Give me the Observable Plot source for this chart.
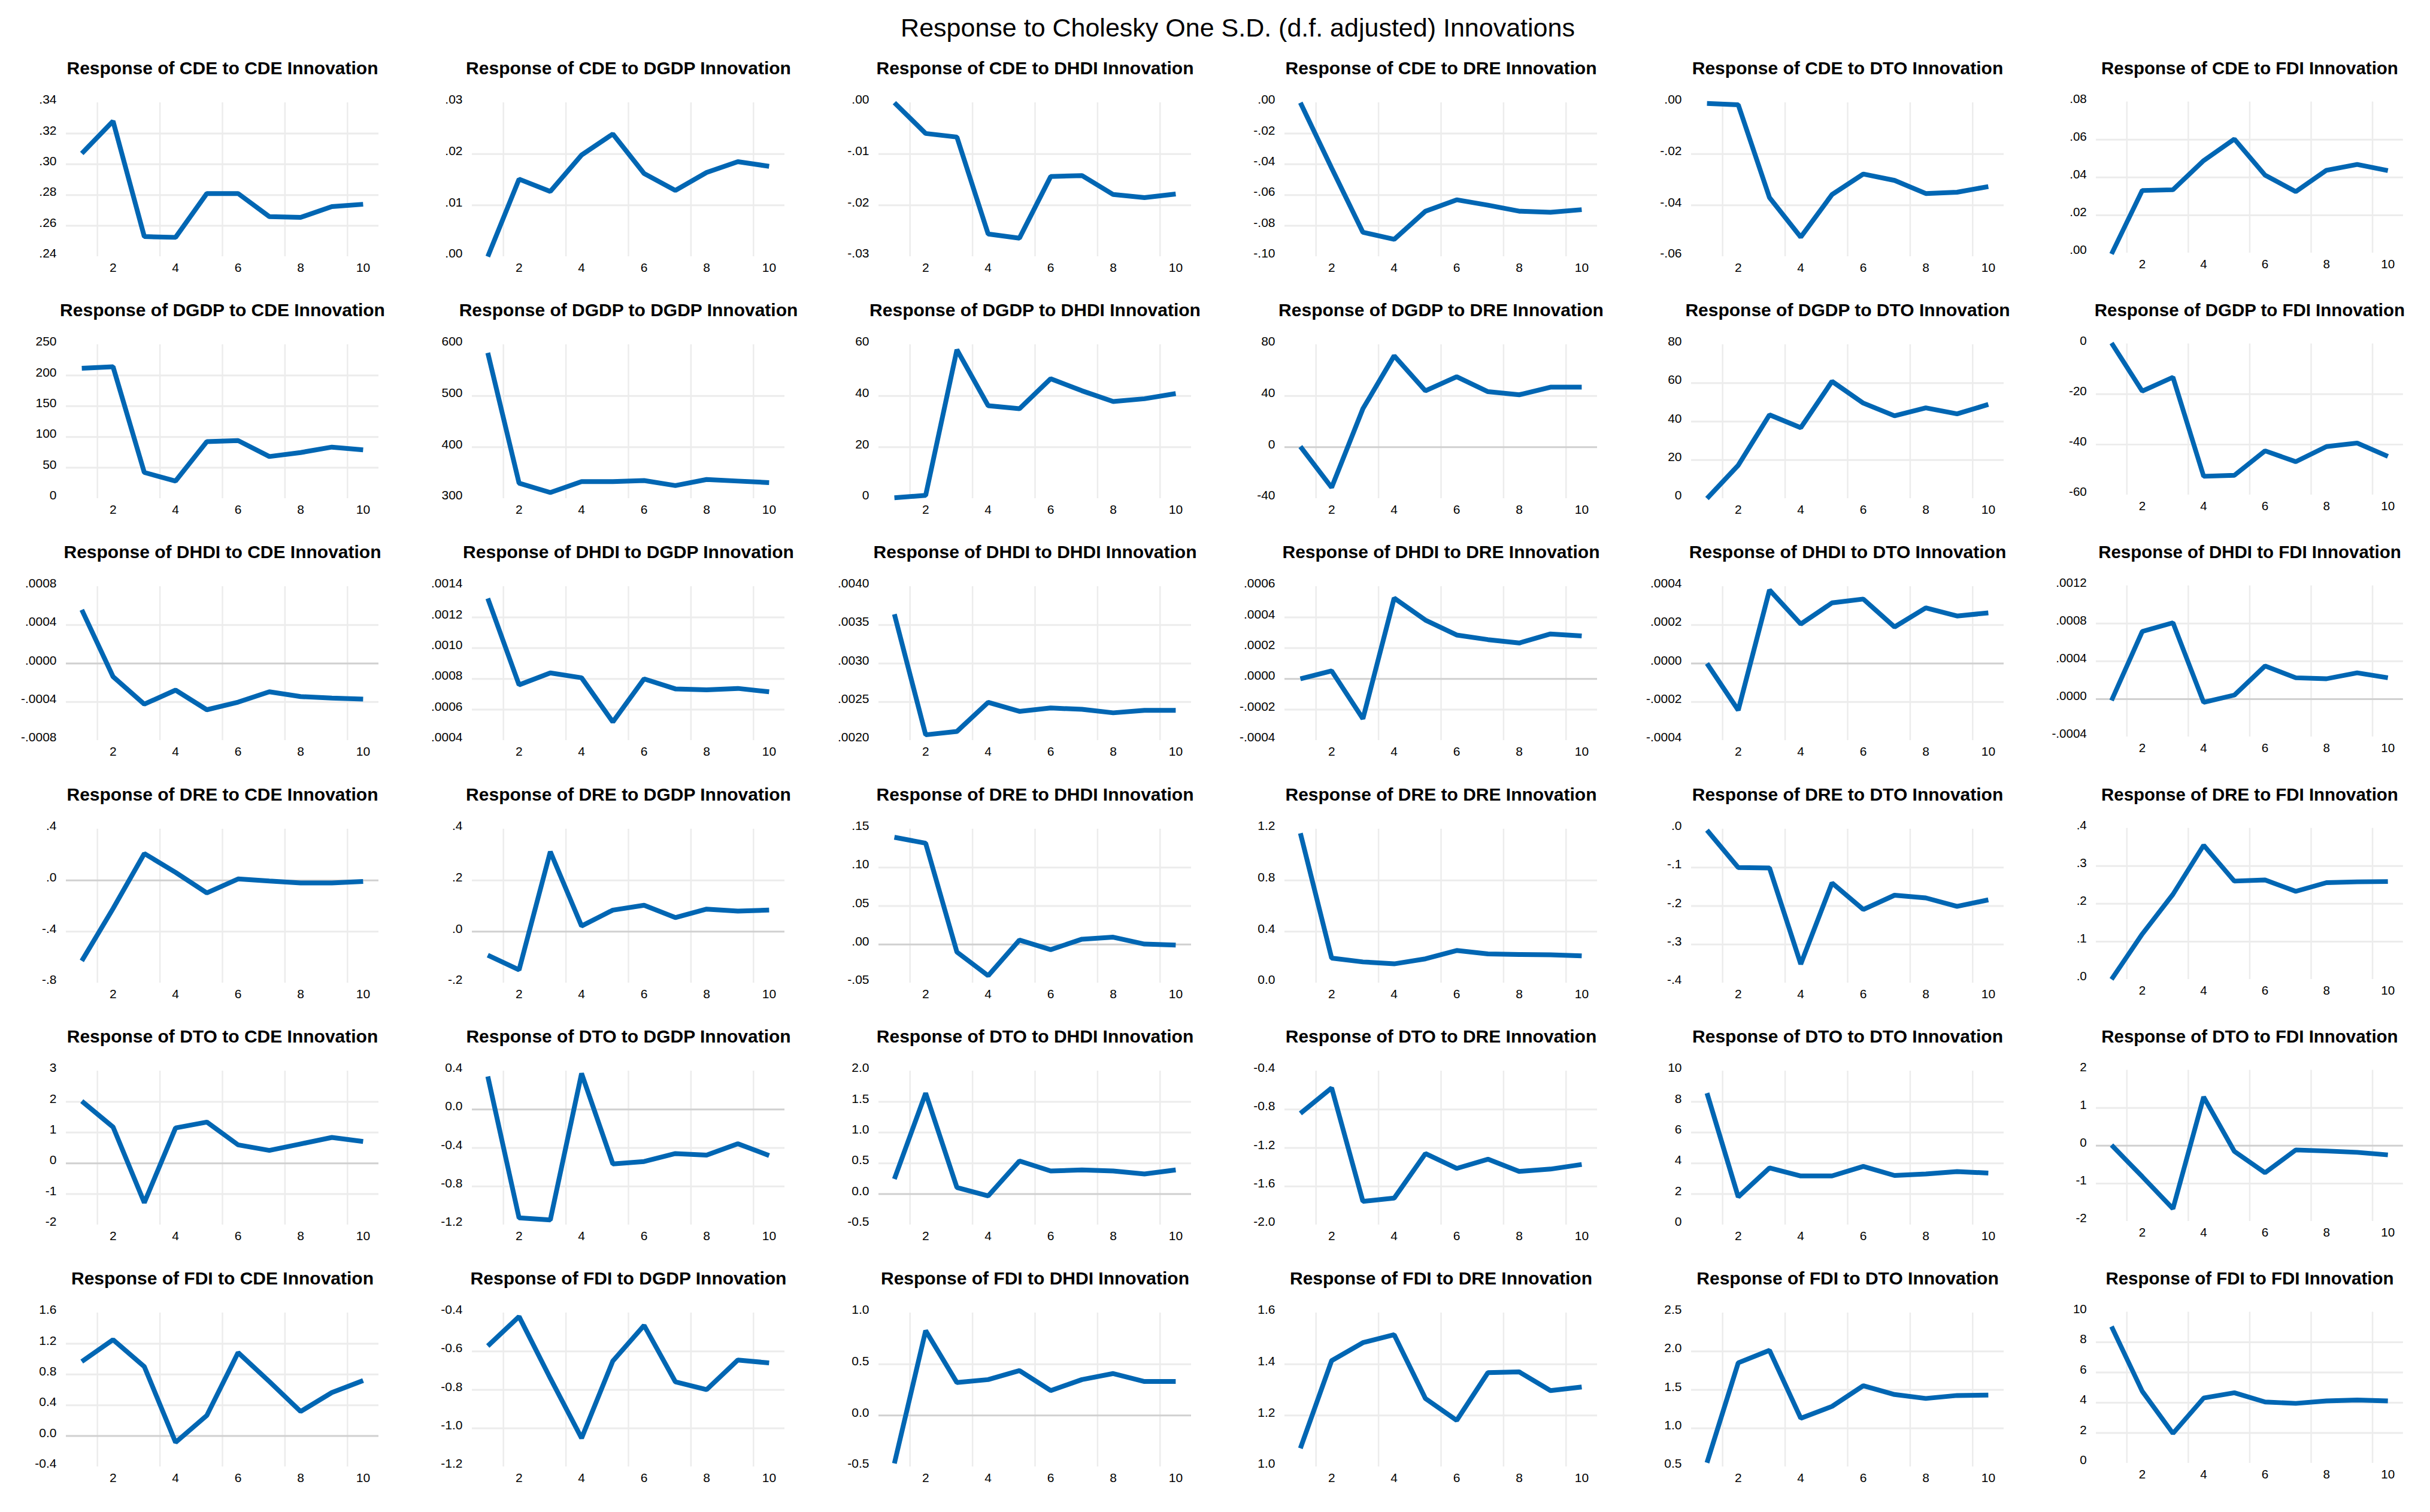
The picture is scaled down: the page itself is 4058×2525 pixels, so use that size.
<!DOCTYPE html>
<html><head><meta charset="utf-8">
<script src="https://cdn.jsdelivr.net/npm/d3@7"></script>
<script src="https://cdn.jsdelivr.net/npm/@observablehq/plot@0.6"></script>
<style>
html,body{margin:0;padding:0;background:#fff;}
#root{position:relative;width:4058px;height:2525px;font-family:"Liberation Sans",Arial,sans-serif;overflow:hidden;}
#title{position:absolute;top:25px;left:2067px;transform:translateX(-50%);font-size:43px;line-height:43px;white-space:nowrap;color:#000;}
.cell{position:absolute;}
</style>
</head><body>
<div id="root"><div id="title">Response to Cholesky One S.D. (d.f. adjusted) Innovations</div></div>
<script>
const variables = ["CDE","DGDP","DHDI","DRE","DTO","FDI"];
const horizon = [1,2,3,4,5,6,7,8,9,10];
const xTickLabels = [2,4,6,8,10];
const xGrid = [1.5,3.5,5.5,7.5,9.5];

// responses, one array per responding variable; inner order = shock (CDE, DGDP, DHDI, DRE, DTO, FDI)
const respCDE = [
  [0.307,0.328,0.253,0.2525,0.281,0.281,0.266,0.2655,0.2725,0.274],
  [0.0,0.0151,0.0127,0.0198,0.0239,0.0162,0.0129,0.0164,0.0185,0.0176],
  [0.0,-0.0060,-0.0067,-0.0256,-0.0264,-0.0144,-0.0142,-0.0179,-0.0185,-0.0178],
  [0.0,-0.0425,-0.0842,-0.0888,-0.0705,-0.0631,-0.0666,-0.0705,-0.0712,-0.0695],
  [-0.0003,-0.0008,-0.0370,-0.0524,-0.0358,-0.0278,-0.0303,-0.0354,-0.0349,-0.0327],
  [-0.0005,0.0331,0.0335,0.0489,0.0603,0.0412,0.0325,0.0438,0.0469,0.0436]
];
const respDGDP = [
  [211.5,214,42.3,28.4,92.5,94.1,68.2,74.7,83.5,79.0],
  [584,330,311.7,333,333,335,325.3,337,334,331],
  [0.3,1.2,58.0,36.2,35.0,46.7,42.0,37.8,38.9,40.9],
  [0.5,-31.4,30,71.3,44,55,43.3,40.9,46.8,46.8],
  [0,17.3,43.5,36.8,60.9,49.6,43.0,47.1,44.0,48.9],
  [0.3,-18.8,-13.3,-52.6,-52.2,-42.5,-46.8,-40.8,-39.4,-44.7]
];
const respDHDI = [
  [0.000558,-0.000137,-0.000423,-0.000277,-0.000481,-0.000402,-0.000294,-0.000344,-0.000360,-0.000371],
  [0.001323,0.000761,0.000839,0.000807,0.000520,0.000800,0.000735,0.000729,0.000738,0.000716],
  [0.003641,0.002073,0.002117,0.002495,0.002378,0.002422,0.002404,0.002359,0.002391,0.002391],
  [0.0,0.000052,-0.000259,0.000525,0.000382,0.000285,0.000255,0.000233,0.000292,0.000279],
  [0.0,-0.000243,0.000382,0.000205,0.000315,0.000335,0.000190,0.000289,0.000247,0.000263],
  [-0.000015,0.000715,0.000808,-0.000035,0.000042,0.000350,0.000225,0.000215,0.000277,0.000225]
];
const respDRE = [
  [-0.628,-0.22,0.209,0.062,-0.098,0.011,-0.005,-0.020,-0.020,-0.008],
  [-0.092,-0.149,0.312,0.022,0.084,0.103,0.055,0.088,0.080,0.084],
  [0.1393,0.1316,-0.0098,-0.0406,0.0057,-0.0067,0.0069,0.0095,0.0005,-0.0008],
  [1.167,0.194,0.164,0.149,0.188,0.253,0.226,0.222,0.219,0.211],
  [-0.003,-0.100,-0.101,-0.351,-0.140,-0.209,-0.172,-0.179,-0.201,-0.184],
  [0.0,0.12,0.225,0.355,0.260,0.263,0.233,0.256,0.258,0.259]
];
const respDTO = [
  [2.02,1.18,-1.28,1.15,1.34,0.60,0.42,0.63,0.84,0.71],
  [0.343,-1.127,-1.148,0.374,-0.566,-0.541,-0.459,-0.475,-0.357,-0.479],
  [0.246,1.64,0.107,-0.029,0.538,0.376,0.392,0.376,0.327,0.392],
  [-0.841,-0.576,-1.756,-1.722,-1.259,-1.413,-1.317,-1.444,-1.420,-1.372],
  [8.56,1.82,3.70,3.18,3.18,3.80,3.21,3.31,3.46,3.37],
  [0.015,-0.817,-1.666,1.29,-0.149,-0.715,-0.113,-0.139,-0.175,-0.242]
];
const respFDI = [
  [0.967,1.252,0.902,-0.083,0.267,1.084,0.708,0.319,0.565,0.721],
  [-0.572,-0.419,-0.74,-1.051,-0.650,-0.465,-0.758,-0.799,-0.645,-0.660],
  [-0.467,0.827,0.321,0.350,0.438,0.243,0.350,0.409,0.331,0.331],
  [1.072,1.414,1.484,1.515,1.266,1.181,1.367,1.370,1.297,1.311],
  [0.553,1.851,2.013,1.131,1.285,1.554,1.439,1.388,1.427,1.432],
  [9.04,4.76,1.97,4.31,4.66,4.05,3.96,4.12,4.18,4.12]
];

// y tick labels per panel
const ticksCDE = [
  [".24",".26",".28",".30",".32",".34"],
  [".00",".01",".02",".03"],
  ["-.03","-.02","-.01",".00"],
  ["-.10","-.08","-.06","-.04","-.02",".00"],
  ["-.06","-.04","-.02",".00"],
  [".00",".02",".04",".06",".08"]
];
const ticksDGDP = [
  ["0","50","100","150","200","250"],
  ["300","400","500","600"],
  ["0","20","40","60"],
  ["-40","0","40","80"],
  ["0","20","40","60","80"],
  ["-60","-40","-20","0"]
];
const ticksDHDI = [
  ["-.0008","-.0004",".0000",".0004",".0008"],
  [".0004",".0006",".0008",".0010",".0012",".0014"],
  [".0020",".0025",".0030",".0035",".0040"],
  ["-.0004","-.0002",".0000",".0002",".0004",".0006"],
  ["-.0004","-.0002",".0000",".0002",".0004"],
  ["-.0004",".0000",".0004",".0008",".0012"]
];
const ticksDRE = [
  ["-.8","-.4",".0",".4"],
  ["-.2",".0",".2",".4"],
  ["-.05",".00",".05",".10",".15"],
  ["0.0","0.4","0.8","1.2"],
  ["-.4","-.3","-.2","-.1",".0"],
  [".0",".1",".2",".3",".4"]
];
const ticksDTO = [
  ["-2","-1","0","1","2","3"],
  ["-1.2","-0.8","-0.4","0.0","0.4"],
  ["-0.5","0.0","0.5","1.0","1.5","2.0"],
  ["-2.0","-1.6","-1.2","-0.8","-0.4"],
  ["0","2","4","6","8","10"],
  ["-2","-1","0","1","2"]
];
const ticksFDI = [
  ["-0.4","0.0","0.4","0.8","1.2","1.6"],
  ["-1.2","-1.0","-0.8","-0.6","-0.4"],
  ["-0.5","0.0","0.5","1.0"],
  ["1.0","1.2","1.4","1.6"],
  ["0.5","1.0","1.5","2.0","2.5"],
  ["0","2","4","6","8","10"]
];

const responses = [respCDE, respDGDP, respDHDI, respDRE, respDTO, respFDI];
const tickSets = [ticksCDE, ticksDGDP, ticksDHDI, ticksDRE, ticksDTO, ticksFDI];

const FONT = "'Liberation Sans', Arial, sans-serif";
const cellW = 678.4, cellH = 404.2, topOffset = 91;

function panel(resp, shock, values, tickLabels) {
  const ticks = tickLabels.map(Number);
  const lo = d3.min(ticks), hi = d3.max(ticks);
  const inner = ticks.filter(t => t > lo && t < hi);
  const data = horizon.map((h, i) => ({h, v: values[i]}));
  const fmt = d => tickLabels[ticks.indexOf(d)];
  return Plot.plot({
    width: 678, height: 404,
    marginLeft: 110, marginRight: 46, marginTop: 80, marginBottom: 67,
    style: {fontFamily: FONT, fontSize: "21px", color: "#000", background: "transparent", overflow: "visible"},
    x: {domain: [0.5, 10.5], label: null},
    y: {domain: [lo, hi], label: null},
    marks: [
      Plot.ruleX(xGrid, {stroke: "#ececec", strokeWidth: 2.5}),
      Plot.ruleY(inner.filter(t => t !== 0), {stroke: "#ececec", strokeWidth: 3}),
      Plot.ruleY(inner.filter(t => t === 0), {stroke: "#d0d0d0", strokeWidth: 3}),
      Plot.axisX({ticks: xTickLabels, tickSize: 0, tickPadding: 11, label: null, tickFormat: d => String(d)}),
      Plot.axisY({ticks: ticks, tickSize: 0, tickPadding: 16, dy: -5, label: null, tickFormat: fmt}),
      Plot.line(data, {x: "h", y: "v", stroke: "#0066b3", strokeWidth: 8, strokeLinejoin: "miter", strokeLinecap: "butt"}),
      Plot.text([`Response of ${resp} to ${shock} Innovation`], {frameAnchor: "top", lineAnchor: "middle", dy: -57, fontSize: 30, fontWeight: "bold", fill: "#000"})
    ]
  });
}

const root = document.getElementById("root");
variables.forEach((resp, r) => {
  variables.forEach((shock, c) => {
    const div = document.createElement("div");
    div.className = "cell";
    div.style.left = Math.round(c * cellW) + "px";
    div.style.top = Math.round(topOffset + r * cellH) + "px";
    div.appendChild(panel(resp, shock, responses[r][c], tickSets[r][c]));
    root.appendChild(div);
  });
});
</script>
</body></html>
